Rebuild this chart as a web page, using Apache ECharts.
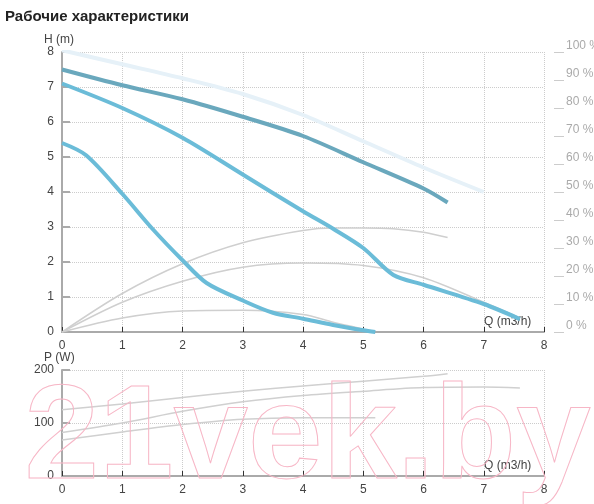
<!DOCTYPE html>
<html>
<head>
<meta charset="utf-8">
<script src="https://cdn.jsdelivr.net/npm/echarts@6/dist/echarts.min.js"></script>
<style>body{margin:0;background:#fff}#main{width:594px;height:504px}</style>
</head>
<body>
<div id="main"></div>
<script>
// кривые напора H(Q)
var headA = [[0,8.05],[1,7.65],[2,7.25],[3,6.8],[4,6.2],[5,5.45],[6,4.7],[7,4.0]];
var headB = [[0,7.5],[1,7.05],[2,6.65],[3,6.15],[4,5.6],[5,4.85],[6,4.1],[6.4,3.7]];
var headC = [[0,7.1],[1,6.4],[2,5.55],[3,4.5],[4,3.45],[4.5,2.95],[5,2.4],[5.5,1.63],[6,1.35],[7,0.8],[7.6,0.37]];
var headD = [[0,5.4],[0.4,5.05],[1,3.95],[1.5,2.95],[2,2.05],[2.4,1.4],[3,0.9],[3.5,0.55],[4,0.38],[4.5,0.2],[5,0.05],[5.2,0]];
// КПД
var effA = [[0,0],[1,1.1],[2,1.95],[3,2.55],[4,2.9],[4.5,2.97],[5,2.97],[5.5,2.95],[6,2.85],[6.4,2.7]];
var effB = [[0,0],[1,0.85],[2,1.45],[3,1.85],[4,1.97],[5,1.9],[6,1.55],[7,0.85],[7.6,0.4]];
var effC = [[0,0],[1,0.4],[2,0.6],[3,0.62],[4,0.5],[4.5,0.28],[5,0.08],[5.1,0.03]];
// мощность P(Q)
var powA = [[0,125],[1,136],[2,148],[3,160],[4,170],[5,179],[6,188],[6.4,193]];
var powB = [[0,82],[1,100],[2,122],[3,140],[4,152],[5,160],[6,167],[7,168],[7.6,166]];
var powC = [[0,68],[1,83],[2,97],[3,107],[4,110],[5,110],[5.2,110]];

var myChart = echarts.init(document.getElementById('main'));

var labelStyle = {color: '#444', fontSize: 12, fontFamily: 'Arial'};
var gridLine = {show: true, lineStyle: {color: '#ccc', type: 'dotted'}};
var axisLine = {lineStyle: {color: '#aaa', width: 2}};

function xAxis(idx) {
	return {
		type: 'value', gridIndex: idx, min: 0, max: 8, interval: 1,
		name: 'Q (m3/h)', nameLocation: 'end', nameGap: -60,
		nameTextStyle: {color: '#444', fontSize: 12, verticalAlign: 'bottom', padding: [0, 0, 4, 0]},
		axisLine: axisLine, axisTick: {show: true, inside: true, length: 5, lineStyle: {color: '#333'}},
		axisLabel: labelStyle, splitLine: gridLine
	};
}

function line(data, color, width, x, y) {
	return {type: 'line', data: data, xAxisIndex: x, yAxisIndex: y, smooth: 0.3,
		symbol: 'none', lineStyle: {color: color, width: width}, silent: true};
}

var option = {
	animation: false,
	title: {text: 'Рабочие характеристики', left: 0, top: 4,
		textStyle: {fontSize: 15, fontWeight: 'bold', color: '#222', fontFamily: 'Arial'}},
	graphic: [{type: 'text', left: 24, top: 374, silent: true, z: 100,
		style: {text: '21vek.by', font: 'bold 134px Arial', fill: 'rgba(0,0,0,0)', stroke: '#f7b6c6', lineWidth: 1}}],
	grid: [
		{left: 62, right: 50, top: 52, height: 280, outerBoundsMode: 'none'},
		{left: 62, right: 50, top: 370, height: 106, outerBoundsMode: 'none'}
	],
	xAxis: [xAxis(0), xAxis(1)],
	yAxis: [
		{type: 'value', gridIndex: 0, min: 0, max: 8, interval: 1, name: 'H (m)',
			nameGap: 2, nameTextStyle: {color: '#444', fontSize: 12, align: 'left', padding: [0, 0, 0, -18]},
			axisLine: {show: true, lineStyle: {color: '#aaa', width: 2}},
			axisTick: {show: true, inside: true, length: 8, lineStyle: {color: '#aaa', width: 2}},
			axisLabel: labelStyle, splitLine: gridLine},
		{type: 'value', gridIndex: 0, min: 0, max: 100, interval: 10, position: 'right', offset: 10,
			axisLine: {show: false}, axisTick: {show: true, length: 10, lineStyle: {color: '#ccc'}},
			axisLabel: {color: '#aaa', fontSize: 12, margin: 12, verticalAlign: 'bottom', formatter: '{value} %'},
			splitLine: {show: false}},
		{type: 'value', gridIndex: 1, min: 0, max: 200, interval: 100, name: 'P (W)',
			nameGap: 2, nameTextStyle: {color: '#444', fontSize: 12, align: 'left', padding: [0, 0, 0, -18]},
			axisLine: {show: true, lineStyle: {color: '#aaa', width: 2}},
			axisTick: {show: true, inside: true, length: 8, lineStyle: {color: '#aaa', width: 2}},
			axisLabel: labelStyle, splitLine: gridLine}
	],
	series: [
		line(effA, '#cfcfcf', 1.5, 0, 0),
		line(effB, '#cfcfcf', 1.5, 0, 0),
		line(effC, '#cfcfcf', 1.5, 0, 0),
		line(headA, '#e6f1f8', 4, 0, 0),
		line(headB, '#6aa8bd', 4, 0, 0),
		line(headC, '#6bbcd8', 4, 0, 0),
		line(headD, '#6bbcd8', 4, 0, 0),
		line(powA, '#d0d0d0', 1.5, 1, 2),
		line(powB, '#d0d0d0', 1.5, 1, 2),
		line(powC, '#d0d0d0', 1.5, 1, 2)
	]
};

myChart.setOption(option);
</script>
</body>
</html>
